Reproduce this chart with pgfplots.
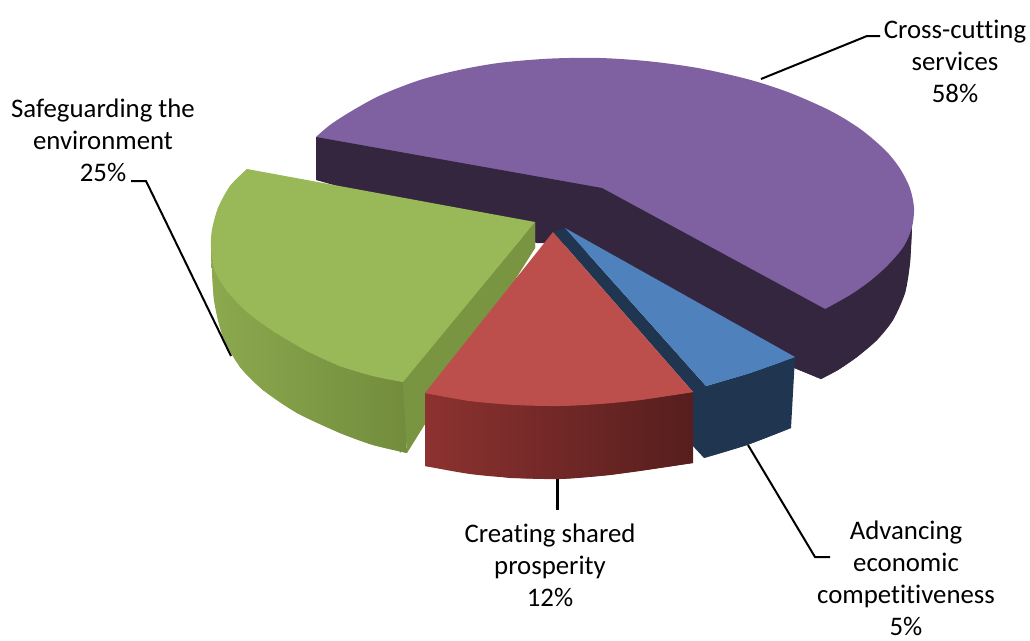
\documentclass[border=0pt]{standalone}
\usepackage{pgfplots}
\pgfplotsset{compat=1.18}
\usepackage{fontspec}
\setmainfont{Carlito}[Ligatures=NoCommon]
\definecolor{purpletop}{HTML}{7F60A0}
\definecolor{purpleside}{HTML}{35263F}
\definecolor{greentop}{HTML}{99B858}
\definecolor{greeninner}{HTML}{7A9542}
\definecolor{greenL}{HTML}{8CA94E}
\definecolor{greenR}{HTML}{728C3D}
\definecolor{bluetop}{HTML}{4F81BD}
\definecolor{blueside}{HTML}{1F3550}
\definecolor{redtop}{HTML}{BC4E4B}
\definecolor{redL}{HTML}{8C3230}
\definecolor{redM}{HTML}{702B2A}
\definecolor{redR}{HTML}{561E1D}
\tikzset{
  greenwall/.style={draw=none,left color=greenL,right color=greenR},
  redwall/.style={draw=none,left color=redL,middle color=redM,right color=redR},
  lbl/.style={align=center,font=\fontsize{26.8}{32}\selectfont,inner sep=0pt,text=black},
}
\begin{document}
\begin{tikzpicture}
\begin{axis}[
  scale only axis, width=1030pt, height=640pt,
  xmin=0, xmax=1030, ymin=0, ymax=640, y dir=reverse,
  hide axis, clip=false,
  smooth arc/.style={smooth,tension=0.5},
]
% Cross-cutting services: outer side
\addplot[fill=purpleside,draw=none,smooth arc] coordinates {
 (912,227) (910,263) (905,293) (893,320) (877,340) (857,357) (838,370) (821,379)};
\addplot[fill=purpleside,draw=none] coordinates {
 (912,227) (910,263) (905,293) (893,320) (877,340) (857,357) (838,370) (821,379) (770,358) (800,260)} -- cycle;
% Cross-cutting services: top
\addplot[fill=purpletop,draw=none,smooth arc] coordinates {
 (316,137) (330,125) (350,112) (380,95.5) (420,80) (460,69.8) (500,62.8) (550,58.6) (600,58)
 (650,61.4) (700,68.4) (750,79.8) (790,92.9) (830,110.6) (860,128.8) (885,150) (900,168.6)
 (910,188.4) (914,208) (912,227) (904,246) (888,265) (870,281) (850,295) (825,309)};
% Cross-cutting services: inner side, over the chord of the top
\addplot[fill=purpleside,draw=none] coordinates {
 (316,137) (602,188) (825,309) (821,379) (770,358) (600,255) (565,245) (552,243) (537,243) (316,180)} -- cycle;
% Safeguarding the environment: walls
\addplot[fill=greeninner,draw=none] coordinates {
 (395,390) (535,222) (535,248) (400,453)} -- cycle;
\addplot[greenwall] coordinates {
 (211,250) (214,300) (223,337) (240,367) (263,390) (297,413) (340,433) (373,445)
 (407,453) (403,382) (340,366) (247,312)} -- cycle;
\addplot[greenwall,smooth arc] coordinates {
 (211,250) (214,300) (223,337) (240,367) (263,390) (297,413) (340,433) (373,445) (407,453)};
\addplot[fill=greeninner,draw=none] coordinates {
 (403,382) (535,222) (535,248) (407,453)} -- cycle;
% Safeguarding the environment: top
\addplot[fill=greentop,draw=none] coordinates {
 (247,169) (230,186) (218,208) (212,230) (211,248) (215,271) (227,291) (247,312) (273,331)
 (307,351) (340,366) (373,376) (403,382) (535,222)} -- cycle;
\addplot[fill=greentop,draw=none,smooth arc] coordinates {
 (247,169) (230,186) (218,208) (212,230) (211,248) (215,271) (227,291) (247,312) (273,331)
 (307,351) (340,366) (373,376) (403,382)};
% Advancing economic competitiveness
\addplot[fill=blueside,draw=none] coordinates {
 (565,228) (706,386) (750,373) (795,357) (791,428) (747,445) (704,458) (692,445) (693,392) (553,232)} -- cycle;
\addplot[fill=blueside,draw=none,smooth arc] coordinates {(791,428) (747,445) (704,458)};
\addplot[fill=bluetop,draw=none] coordinates {
 (565,228) (795,357) (750,373) (706,386)} -- cycle;
\addplot[fill=bluetop,draw=none,smooth arc] coordinates {(795,357) (750,373) (706,386)};
% Creating shared prosperity
\addplot[redwall] coordinates {
 (425,393) (425,466) (510,478) (560,479) (610,475) (693,463) (693,392)} -- cycle;
\addplot[redwall,smooth arc] coordinates {
 (425,466) (470,474) (515,478) (560,479) (600,476) (640,471) (693,463)};
\addplot[fill=redtop,draw=none] coordinates {
 (553,232) (425,393) (470,401) (560,406) (640,400) (693,392)} -- cycle;
\addplot[fill=redtop,draw=none,smooth arc] coordinates {
 (425,393) (470,401) (515,405) (560,406) (600,404) (640,400) (693,392)};
% Leader lines
\addplot[black,line width=2pt] coordinates {(761,79) (867,36) (880,36)};
\addplot[black,line width=2pt] coordinates {(131,181) (146,181) (231,356)};
\addplot[black,line width=3pt] coordinates {(557,479) (557,510)};
\addplot[black,line width=2pt] coordinates {(748,445) (815,557) (830,557)};
% Data labels
\node[lbl] at (axis cs:955,61) {Cross-cutting\\services\\58\%};
\node[lbl] at (axis cs:103,140) {Safeguarding the\\environment\\25\%};
\node[lbl] at (axis cs:550,565) {Creating shared\\prosperity\\12\%};
\node[lbl] at (axis cs:906,578) {Advancing\\economic\\competitiveness\\5\%};
\end{axis}
\useasboundingbox (current axis.south west) rectangle (current axis.north east);
\end{tikzpicture}
\end{document}
